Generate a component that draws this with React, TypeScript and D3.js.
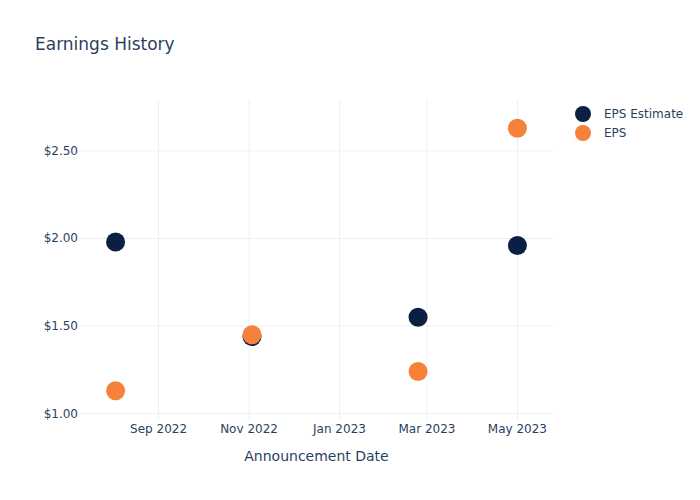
import React from "react";
import * as d3 from "d3";

const dates = ["2022-08-03", "2022-11-03", "2023-02-23", "2023-05-01"];
const epsEstimate = [1.98, 1.44, 1.55, 1.96];
const eps = [1.13, 1.45, 1.24, 2.63];
const yTicks = [1.0, 1.5, 2.0, 2.5];
const xTicks = ["2022-09-01", "2022-11-01", "2023-01-01", "2023-03-01", "2023-05-01"];
const seriesNames = ["EPS Estimate", "EPS"];
const seriesColors = ["#0b1f42", "#f5813a"];

const W = 700, H = 500;
const left = 80, right = 553, top = 100, bottom = 420;
const font = "'DejaVu Sans', Verdana, sans-serif";
const textColor = "#2a3f5f";
const grid = "#ebf0f8";

const parse = d3.utcParse("%Y-%m-%d");

export default function App() {
  const x = d3.scaleUtc()
    .domain([parse("2022-07-10")!, parse("2023-05-25")!])
    .range([left, right]);
  const y = d3.scaleLinear().domain([0.963, 2.791]).range([bottom, top]);
  const fmtX = d3.utcFormat("%b %Y");
  const series = [epsEstimate, eps];

  return (
    <svg width={W} height={H} style={{ position: "absolute", left: 0, top: 0, background: "#fff" }} fontFamily={font}>
      <rect x={0} y={0} width={W} height={H} fill="#fff" />
      {xTicks.map((t) => {
        const xx = x(parse(t)!);
        return (
          <g key={t}>
            <line x1={xx} x2={xx} y1={top} y2={bottom} stroke={grid} strokeWidth={1} />
            <text x={xx} y={433} textAnchor="middle" fontSize={12} fill={textColor}>{fmtX(parse(t)!)}</text>
          </g>
        );
      })}
      {yTicks.map((t) => {
        const yy = y(t);
        return (
          <g key={t}>
            <line x1={left} x2={right} y1={yy} y2={yy} stroke={grid} strokeWidth={1} />
            <text x={78} y={yy + 4} textAnchor="end" fontSize={12} fill={textColor}>{d3.format("$.2f")(t)}</text>
          </g>
        );
      })}
      {series.map((vals, si) => (
        <g key={si}>
          {vals.map((v, i) => (
            <circle key={i} cx={x(parse(dates[i])!)} cy={y(v)} r={9.5} fill={seriesColors[si]} />
          ))}
        </g>
      ))}
      <text x={35} y={50} fontSize={17} fill={textColor}>Earnings History</text>
      <text x={(left + right) / 2} y={461} textAnchor="middle" fontSize={14} fill={textColor}>Announcement Date</text>
      {seriesNames.map((n, i) => (
        <g key={n}>
          <circle cx={583} cy={114 + i * 19} r={8} fill={seriesColors[i]} />
          <text x={604} y={118 + i * 19} fontSize={12} fill={textColor}>{n}</text>
        </g>
      ))}
    </svg>
  );
}
